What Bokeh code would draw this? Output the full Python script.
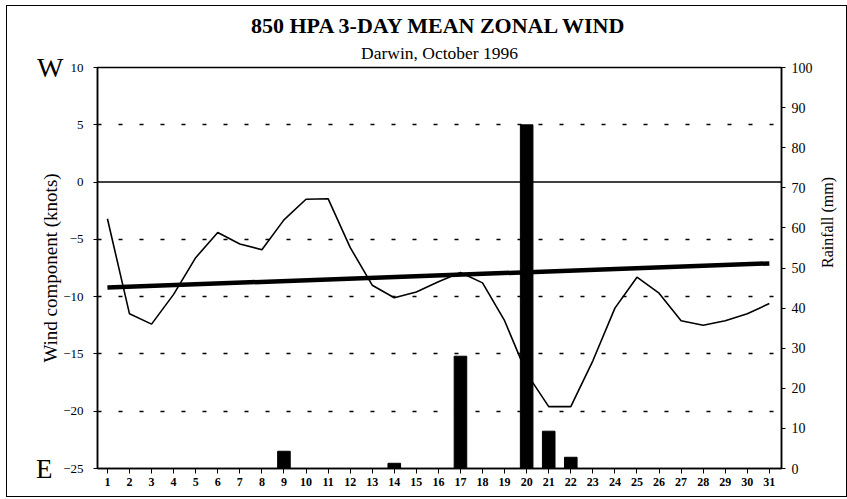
import math
from bokeh.plotting import figure
from bokeh.models import LinearAxis, Range1d, FixedTicker, Span, Title
from bokeh.embed import file_html
from bokeh.resources import INLINE

# ---- data ----
days = list(range(1, 32))
wind_knots = [-3.2, -11.5, -12.4, -9.8, -6.6, -4.4, -5.4, -5.9, -3.3, -1.5,
              -1.45, -5.7, -9.0, -10.1, -9.6, -8.7, -7.9, -8.8, -12.1, -16.7,
              -19.6, -19.6, -15.6, -11.0, -8.3, -9.7, -12.1, -12.5, -12.1, -11.5,
              -10.6]
rain_days = [9, 14, 17, 20, 21, 22]
rain_mm = [4.3, 1.3, 28.0, 85.7, 9.3, 2.8]
trend_days = [1, 31]
trend_knots = [-9.2, -7.1]
wind_ticks = [10, 5, 0, -5, -10, -15, -20, -25]
dotted_levels = [5, -5, -10, -15, -20]
rain_ticks = list(range(0, 101, 10))
title_text = "850 HPA 3-DAY MEAN ZONAL WIND"
subtitle_text = "Darwin, October 1996"

SERIF = "Liberation Serif"
INK = "black"

p = figure(width=841, height=492, output_backend="svg", toolbar_location=None,
           x_range=Range1d(0.55, 31.55), y_range=Range1d(-25, 10),
           min_border_left=90, min_border_right=67, min_border_top=61,
           min_border_bottom=30)
p.styles = {"border": "1.5px solid black", "margin-left": "6px", "margin-top": "5px"}
p.extra_y_ranges = {"rain": Range1d(0, 100)}

p.outline_line_color = INK
p.outline_line_width = 1.5
p.xgrid.visible = False
p.ygrid.ticker = FixedTicker(ticks=dotted_levels)
p.ygrid.grid_line_color = INK
p.ygrid.grid_line_dash = "4 17"
p.ygrid.grid_line_width = 1.5

p.add_layout(Span(location=0, dimension="width", line_color=INK, line_width=1.5))

# rainfall bars
p.vbar(x=rain_days, top=rain_mm, bottom=0, width=0.57, y_range_name="rain",
       fill_color=INK, line_color=INK)
# wind line
p.line(days, wind_knots, line_color=INK, line_width=1.6)
# trend
p.line(trend_days, trend_knots, line_color=INK, line_width=4.5)

# titles (first added sits closest to the frame)
p.add_layout(Title(text=subtitle_text, align="center", text_font=SERIF, text_color=INK,
                   text_font_size="17.5px", text_font_style="normal", standoff=10), "above")
p.add_layout(Title(text=title_text, align="center", text_font=SERIF, text_color=INK,
                   text_font_size="22px", text_font_style="bold", standoff=-4), "above")

# x axis
xa = p.xaxis[0]
xa.ticker = FixedTicker(ticks=days)
xa.major_tick_out = 5
xa.major_tick_in = 0
xa.minor_tick_line_color = None
xa.major_label_standoff = 4
xa.major_label_text_font = SERIF
xa.major_label_text_font_size = "12px"
xa.major_label_text_font_style = "bold"
xa.major_label_text_color = INK
xa.axis_line_width = 1.5

# left wind axis
ya = p.yaxis[0]
ya.ticker = FixedTicker(ticks=wind_ticks)
ya.major_tick_out = 4
ya.major_tick_in = 0
ya.minor_tick_line_color = None
ya.major_label_standoff = 10
ya.major_label_text_font = SERIF
ya.major_label_text_font_size = "13px"
ya.major_label_text_color = INK
ya.axis_line_width = 1.5

# W marker
wa = LinearAxis(ticker=FixedTicker(ticks=[10]), major_label_overrides={10: "W"})
wa.axis_line_color = None
wa.major_tick_line_color = None
wa.minor_tick_line_color = None
wa.major_label_standoff = -9
wa.major_label_text_font = SERIF
wa.major_label_text_font_size = "28px"
wa.major_label_text_color = INK
p.add_layout(wa, "left")

# E marker + axis title
ea = LinearAxis(ticker=FixedTicker(ticks=[-25]), major_label_overrides={-25: "E"})
ea.axis_line_color = None
ea.major_tick_line_color = None
ea.minor_tick_line_color = None
ea.major_tick_out = 0
ea.major_label_standoff = -18
ea.major_label_text_font = SERIF
ea.major_label_text_font_size = "27px"
ea.major_label_text_color = INK
ea.axis_label = "Wind component (knots)"
ea.axis_label_text_font = SERIF
ea.axis_label_text_font_size = "19px"
ea.axis_label_text_font_style = "normal"
ea.axis_label_text_color = INK
ea.axis_label_standoff = -28
p.add_layout(ea, "left")

# right rainfall axis
ra = LinearAxis(y_range_name="rain", ticker=FixedTicker(ticks=rain_ticks))
ra.major_tick_out = 4
ra.major_tick_in = 0
ra.minor_tick_line_color = None
ra.major_label_standoff = 6
ra.major_label_text_font = SERIF
ra.major_label_text_font_size = "14px"
ra.major_label_text_color = INK
ra.axis_label = "Rainfall (mm)"
ra.axis_label_text_font = SERIF
ra.axis_label_text_font_size = "16px"
ra.axis_label_text_font_style = "normal"
ra.axis_label_text_color = INK
ra.axis_label_standoff = 12
ra.axis_line_width = 1.5
if "axis_label_orientation" in ra.properties():
    ra.axis_label_orientation = math.pi / 2
p.add_layout(ra, "right")

open("out.html", "w").write(file_html(p, INLINE))
